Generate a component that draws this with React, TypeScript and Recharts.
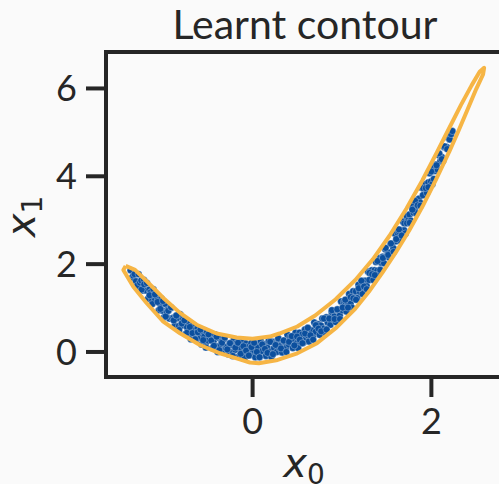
import React from "react";
import { ScatterChart, Scatter, XAxis, YAxis, ReferenceLine } from "recharts";

const TITLE = "Learnt contour";
const X_TICKS = [0, 2];
const Y_TICKS = [0, 2, 4, 6];
const X_DOMAIN: [number, number] = [-1.64, 2.79];
const Y_DOMAIN: [number, number] = [-0.57, 6.83];

const POINT_X0 = [
  -1.365, -1.35, -1.335, -1.32, -1.305, -1.29, -1.275, -1.26, -1.245, -1.23,
  -1.215, -1.2, -1.185, -1.17, -1.155, -1.14, -1.125, -1.11, -1.095, -1.08,
  -1.065, -1.05, -1.035, -1.02, -1.005, -0.99, -0.975, -0.96, -0.945, -0.93,
  -0.915, -0.9, -0.885, -0.87, -0.855, -0.84, -0.825, -0.81, -0.795, -0.78,
  -0.765, -0.75, -0.735, -0.72, -0.705, -0.69, -0.675, -0.66, -0.645, -0.63,
  -0.615, -0.6, -0.585, -0.57, -0.555, -0.54, -0.525, -0.51, -0.495, -0.48,
  -0.465, -0.45, -0.435, -0.42, -0.405, -0.39, -0.375, -0.36, -0.345, -0.33,
  -0.315, -0.3, -0.285, -0.27, -0.255, -0.24, -0.225, -0.21, -0.195, -0.18,
  -0.165, -0.15, -0.135, -0.12, -0.105, -0.09, -0.075, -0.06, -0.045, -0.03,
  -0.015, 0.0, 0.015, 0.03, 0.045, 0.06, 0.075, 0.09, 0.105, 0.12,
  0.135, 0.15, 0.165, 0.18, 0.195, 0.21, 0.225, 0.24, 0.255, 0.27,
  0.285, 0.3, 0.315, 0.33, 0.345, 0.36, 0.375, 0.39, 0.405, 0.42,
  0.435, 0.45, 0.465, 0.48, 0.495, 0.51, 0.525, 0.54, 0.555, 0.57,
  0.585, 0.6, 0.615, 0.63, 0.645, 0.66, 0.675, 0.69, 0.705, 0.72,
  0.735, 0.75, 0.765, 0.78, 0.795, 0.81, 0.825, 0.84, 0.855, 0.87,
  0.885, 0.9, 0.915, 0.93, 0.945, 0.96, 0.975, 0.99, 1.005, 1.02,
  1.035, 1.05, 1.065, 1.08, 1.095, 1.11, 1.125, 1.14, 1.155, 1.17,
  1.185, 1.2, 1.215, 1.23, 1.245, 1.26, 1.275, 1.29, 1.305, 1.32,
  1.335, 1.35, 1.365, 1.38, 1.395, 1.41, 1.425, 1.44, 1.455, 1.47,
  1.485, 1.5, 1.515, 1.53, 1.545, 1.56, 1.575, 1.59, 1.605, 1.62,
  1.635, 1.65, 1.665, 1.68, 1.695, 1.71, 1.725, 1.74, 1.755, 1.77,
  1.785, 1.8, 1.815, 1.83, 1.845, 1.86, 1.875, 1.89, 1.905, 1.92,
  1.935, 1.95, 1.965, 1.98, 1.995, 2.01, 2.025, 2.04, 2.055, 2.07,
  2.085, 2.1, 2.115, 2.13, 2.145, 2.16, 2.175, 2.19, 2.205, 2.22,
  2.235,
  -1.2425, -1.2125, -1.1825, -1.1525, -1.1225, -1.0925, -1.0625, -1.0325, -1.0025, -0.9725,
  -0.9425, -0.9125, -0.8825, -0.8525, -0.8225, -0.7925, -0.7625, -0.7325, -0.7025, -0.6725,
  -0.6425, -0.6125, -0.5825, -0.5525, -0.5225, -0.4925, -0.4625, -0.4325, -0.4025, -0.3725,
  -0.3425, -0.3125, -0.2825, -0.2525, -0.2225, -0.1925, -0.1625, -0.1325, -0.1025, -0.0725,
  -0.0425, -0.0125, 0.0175, 0.0475, 0.0775, 0.1075, 0.1375, 0.1675, 0.1975, 0.2275,
  0.2575, 0.2875, 0.3175, 0.3475, 0.3775, 0.4075, 0.4375, 0.4675, 0.4975, 0.5275,
  0.5575, 0.5875, 0.6175, 0.6475, 0.6775, 0.7075, 0.7375, 0.7675, 0.7975, 0.8275,
  0.8575, 0.8875, 0.9175, 0.9475, 0.9775, 1.0075, 1.0375, 1.0675, 1.0975, 1.1275,
  1.1575, 1.1875, 1.2175, 1.2475, 1.2775, 1.3075, 1.3375, 1.3675, 1.3975, 1.4275,
  1.4575, 1.4875, 1.5175, 1.5475, 1.5775, 1.6075, 1.6375, 1.6675, 1.6975, 1.7275,
  1.7575, 1.7875, 1.8175, 1.8475, 1.8775, 1.9075, 1.9375, 1.9675, 1.9975, 2.0275,
  2.0575, 2.0875, 2.1175, 2.1475, 2.1775,
];

const POINT_X1 = [
  1.86, 1.69, 1.74, 1.77, 1.61, 1.51, 1.77, 1.58, 1.63, 1.4,
  1.64, 1.4, 1.4, 1.21, 1.42, 1.36, 1.18, 1.43, 1.17, 1.3,
  1.24, 0.95, 1.1, 1.22, 0.94, 0.79, 1.09, 0.91, 0.97, 0.76,
  1.0, 0.77, 0.78, 0.6, 0.82, 0.77, 0.59, 0.86, 0.6, 0.74,
  0.7, 0.41, 0.57, 0.7, 0.43, 0.29, 0.6, 0.43, 0.5, 0.29,
  0.54, 0.32, 0.34, 0.17, 0.4, 0.35, 0.19, 0.46, 0.26, 0.4,
  0.37, 0.09, 0.26, 0.4, 0.13, 0.0, 0.32, 0.16, 0.24, 0.04,
  0.3, 0.09, 0.12, -0.05, 0.2, 0.16, 0.0, 0.28, 0.05, 0.2,
  0.18, -0.09, 0.09, 0.23, -0.02, -0.14, 0.19, 0.03, 0.12, -0.07,
  0.2, 0.0, 0.04, -0.12, 0.13, 0.1, -0.04, 0.25, 0.02, 0.18,
  0.17, -0.09, 0.1, 0.25, 0.01, -0.11, 0.23, 0.09, 0.19, 0.0,
  0.28, 0.09, 0.14, -0.01, 0.25, 0.23, 0.09, 0.39, 0.17, 0.34,
  0.33, 0.09, 0.28, 0.44, 0.2, 0.09, 0.44, 0.3, 0.4, 0.22,
  0.51, 0.32, 0.38, 0.24, 0.5, 0.49, 0.35, 0.67, 0.46, 0.63,
  0.63, 0.39, 0.6, 0.76, 0.53, 0.44, 0.79, 0.67, 0.78, 0.62,
  0.91, 0.74, 0.81, 0.68, 0.95, 0.95, 0.83, 1.15, 0.95, 1.14,
  1.15, 0.92, 1.13, 1.32, 1.1, 1.01, 1.38, 1.26, 1.38, 1.23,
  1.53, 1.37, 1.45, 1.32, 1.61, 1.62, 1.51, 1.83, 1.64, 1.84,
  1.86, 1.64, 1.86, 2.05, 1.85, 1.77, 2.14, 2.03, 2.17, 2.02,
  2.34, 2.18, 2.27, 2.15, 2.45, 2.46, 2.36, 2.7, 2.52, 2.72,
  2.75, 2.54, 2.77, 2.97, 2.77, 2.7, 3.09, 2.99, 3.13, 2.99,
  3.32, 3.17, 3.26, 3.16, 3.46, 3.49, 3.4, 3.74, 3.57, 3.79,
  3.82, 3.62, 3.86, 4.07, 3.88, 3.82, 4.21, 4.12, 4.27, 4.15,
  4.48, 4.34, 4.44, 4.35, 4.66, 4.67, 4.66, 4.87, 4.84, 4.96,
  5.03,
  1.42, 1.54, 1.57, 1.29, 1.09, 1.31, 1.14, 0.98, 1.16, 0.81,
  0.94, 1.02, 0.72, 0.83, 0.5, 0.65, 0.72, 0.44, 0.57, 0.43,
  0.29, 0.45, 0.51, 0.27, 0.1, 0.4, 0.26, 0.14, 0.35, 0.04,
  0.21, 0.33, 0.06, 0.2, -0.09, 0.1, 0.21, -0.04, 0.13, 0.03,
  -0.08, 0.11, 0.21, 0.0, -0.12, 0.17, 0.07, -0.02, 0.23, -0.05,
  0.16, 0.31, 0.08, 0.26, 0.0, 0.23, 0.36, 0.15, 0.35, 0.28,
  0.2, 0.42, 0.55, 0.38, 0.28, 0.61, 0.53, 0.47, 0.76, 0.51,
  0.76, 0.95, 0.75, 0.97, 0.75, 1.01, 1.19, 1.01, 1.25, 1.22,
  1.19, 1.45, 1.62, 1.49, 1.43, 1.8, 1.77, 1.75, 2.07, 1.87,
  2.14, 2.37, 2.21, 2.47, 2.28, 2.57, 2.79, 2.65, 2.93, 2.93,
  2.94, 3.24, 3.44, 3.34, 3.33, 3.73, 3.73, 3.75, 4.11, 3.94,
  4.25, 4.52, 4.39, 4.68, 4.62,
];

const CONTOUR_X0 = [
  -1.42, -1.315, -1.184, -0.999, -0.812, -0.626, -0.402, -0.179, 0.0, 0.193,
  0.3, 0.5, 0.7, 0.93, 1.15, 1.345, 1.53, 1.72, 1.9, 2.06,
  2.2, 2.33, 2.45, 2.54, 2.59, 2.578, 2.5, 2.4, 2.3, 2.2,
  2.05, 1.9, 1.75, 1.6, 1.45, 1.3, 1.15, 0.94, 0.72, 0.5,
  0.28, 0.07, -0.03, -0.179, -0.365, -0.589, -0.812, -0.999, -1.184, -1.334,
  -1.446, -1.42,
];

const CONTOUR_X1 = [
  1.96, 1.87, 1.61, 1.23, 0.89, 0.62, 0.42, 0.33, 0.3, 0.35,
  0.42, 0.58, 0.83, 1.2, 1.64, 2.11, 2.64, 3.26, 3.91, 4.54,
  5.1, 5.62, 6.07, 6.38, 6.47, 6.32, 5.98, 5.5, 5.02, 4.56,
  3.92, 3.31, 2.76, 2.26, 1.8, 1.37, 0.99, 0.56, 0.2, -0.03,
  -0.182, -0.257, -0.24, -0.144, -0.03, 0.159, 0.426, 0.69, 1.109, 1.487,
  1.868, 1.96,
];

const points = POINT_X0.map((x, i) => ({ x, y: POINT_X1[i] }));
const contour = CONTOUR_X0.map((x, i) => ({ x, y: CONTOUR_X1[i] }));

const INK = "#262626";
const BLUE = "#0b4f9e";
const ORANGE = "#f6b545";
const BG = "#fafafa";

const XLabel = (props: any) => {
  const vb = props.viewBox || { x: 106, y: 377, width: 396, height: 107 };
  return (
    <text
      x={vb.x + vb.width / 2}
      y={vb.y + 100}
      textAnchor="middle"
      fill={INK}
      style={{ fontFamily: "DejaVu Sans", fontSize: 40 }}
    >
      <tspan fontStyle="italic">x</tspan>
      <tspan fontSize={28} dy={7}>0</tspan>
    </text>
  );
};

const YLabel = (props: any) => {
  const vb = props.viewBox || { x: 0, y: 52, width: 106, height: 325 };
  const bx = vb.x + 35;
  const cy = vb.y + vb.height / 2 + 2;
  return (
    <text
      x={bx}
      y={cy}
      transform={`rotate(-90, ${bx}, ${cy})`}
      textAnchor="middle"
      fill={INK}
      style={{ fontFamily: "DejaVu Sans", fontSize: 40 }}
    >
      <tspan fontStyle="italic">x</tspan>
      <tspan fontSize={28} dy={7}>1</tspan>
    </text>
  );
};

const Dot = (p: any) => (
  <circle cx={p.cx} cy={p.cy} r={3.5} fill={BLUE} stroke="#ffffff" strokeWidth={0.3} />
);

const NoShape = () => <g />;

const axisLine = { stroke: INK, strokeWidth: 4, strokeLinecap: "square" as const };
const tickLine = { stroke: INK, strokeWidth: 4 };
const tickStyle = { fill: INK, fontSize: 36, fontFamily: "Lato" };

export default function App() {
  return (
    <div
      style={{
        position: "fixed",
        left: 0,
        top: 0,
        width: 499,
        height: 484,
        overflow: "hidden",
        background: BG,
      }}
    >
      <ScatterChart
        width={520}
        height={484}
        margin={{ top: 52, right: 18, bottom: 0, left: 0 }}
        style={{ background: BG }}
      >
        <XAxis
          xAxisId={0}
          type="number"
          dataKey="x"
          domain={X_DOMAIN}
          allowDataOverflow
          ticks={X_TICKS}
          interval={0}
          height={107}
          tickSize={20}
          tickMargin={11}
          tick={tickStyle}
          axisLine={axisLine}
          tickLine={tickLine}
          label={{ content: XLabel }}
        />
        <YAxis
          yAxisId={0}
          type="number"
          dataKey="y"
          domain={Y_DOMAIN}
          allowDataOverflow
          ticks={Y_TICKS}
          interval={0}
          width={106}
          tickSize={20}
          tickMargin={9}
          tick={tickStyle}
          axisLine={axisLine}
          tickLine={tickLine}
          label={{ content: YLabel }}
        />
        <ReferenceLine
          xAxisId={0}
          yAxisId={0}
          y={Y_DOMAIN[1]}
          stroke={INK}
          strokeWidth={4}
          strokeLinecap="square"
        />
        <Scatter
          data={points}
          xAxisId={0}
          yAxisId={0}
          shape={Dot}
          isAnimationActive={false}
        />
        <Scatter
          data={contour}
          xAxisId={0}
          yAxisId={0}
          line={{ stroke: ORANGE, strokeWidth: 4, strokeLinejoin: "round" }}
          lineType="joint"
          shape={NoShape}
          isAnimationActive={false}
        />
      </ScatterChart>
      <svg
        width={499}
        height={50}
        style={{ position: "absolute", left: 0, top: 0, overflow: "visible" }}
      >
        <text
          x={305}
          y={39}
          textAnchor="middle"
          fill={INK}
          style={{ fontFamily: "Lato", fontSize: 41 }}
        >
          {TITLE}
        </text>
      </svg>
    </div>
  );
}
